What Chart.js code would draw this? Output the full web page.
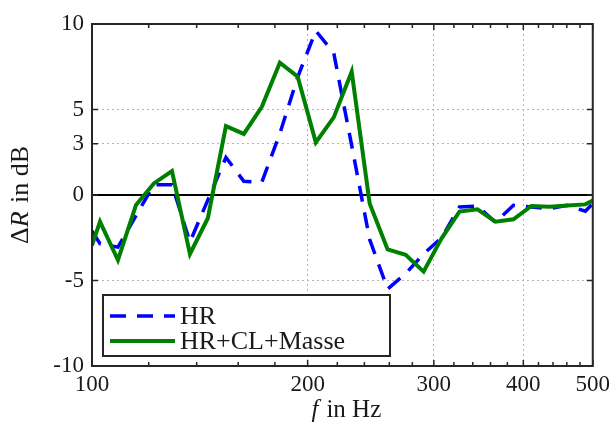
<!DOCTYPE html>
<html lang="de">
<head>
    <meta charset="UTF-8">
    <title>Delta R</title>
    <script src="https://cdn.jsdelivr.net/npm/chart.js"></script>
    <style>
        html, body { margin: 0; padding: 0; background: #fff; }
        #chartContainer { width: 615px; height: 423px; }
    </style>
</head>
<body>
    <div id="chartContainer">
        <canvas id="deltaRChart" width="615" height="423"></canvas>
    </div>
    <script>
        // frequencies in Hz (1/12 octave steps, plus the axis ends)
        const freqs = [100, 102.6, 108.7, 115.2, 122.0, 129.3, 137.0, 145.1, 153.8, 162.9, 172.6,
            182.9, 193.7, 205.3, 217.5, 230.4, 244.1, 258.6, 274.0, 290.3, 307.6,
            325.8, 345.2, 365.7, 387.5, 410.5, 434.9, 460.8, 488.2, 500];

        const hrValues = [-2.1, -2.85, -3.05, -1.2, 0.6, 0.6, -2.75, -0.3, 2.2, 0.8, 0.75,
            3.6, 6.9, 9.6, 8.3, 2.9, -2.6, -5.5, -4.6, -3.45, -2.5,
            -0.7, -0.65, -1.6, -0.6, -0.7, -0.8, -0.6, -0.95, -0.5];

        const hrClMasseValues = [-2.95, -1.56, -3.8, -0.58, 0.68, 1.4, -3.45, -1.36, 4.03, 3.57, 5.16,
            7.74, 6.92, 3.08, 4.54, 7.21, -0.49, -3.18, -3.5, -4.48, -2.53,
            -0.97, -0.84, -1.56, -1.42, -0.64, -0.68, -0.62, -0.55, -0.33];

        const seriesLabels = ['HR', 'HR+CL+Masse'];
        const xTicks = [100, 200, 300, 400, 500];
        const xMinorTicks = [120, 140, 160, 180, 220, 240, 260, 280, 320, 340, 360, 380, 420, 440, 460, 480];
        const yTicks = [-10, -5, 0, 3, 5, 10];

        const serif = '"Liberation Serif", "DejaVu Serif", serif';
        const frameColor = '#262626';
        const textColor = '#1a1a1a';

        const toPoints = vals => vals.map((v, i) => ({ x: freqs[i], y: v }));

        // draw text made of [text, style, gapAfter] parts, centred on cx
        function drawParts(ctx, parts, size, cx, cy) {
            let total = 0;
            parts.forEach(p => {
                ctx.font = p[1] + ' ' + size + 'px ' + serif;
                total += ctx.measureText(p[0]).width + (p[2] || 0);
            });
            let cur = cx - total / 2;
            ctx.textAlign = 'left';
            parts.forEach(p => {
                ctx.font = p[1] + ' ' + size + 'px ' + serif;
                ctx.fillText(p[0], cur, cy);
                cur += ctx.measureText(p[0]).width + (p[2] || 0);
            });
        }

        // zero line, frame with inward ticks, axis titles, legend
        const decorPlugin = {
            id: 'decor',
            beforeDatasetsDraw(chart) {
                const { ctx, chartArea: a, scales: { y } } = chart;
                const y0 = y.getPixelForValue(0);
                ctx.save();
                ctx.strokeStyle = '#000';
                ctx.lineWidth = 2;
                ctx.beginPath();
                ctx.moveTo(a.left, y0);
                ctx.lineTo(a.right, y0);
                ctx.stroke();
                ctx.restore();
            },
            afterDatasetsDraw(chart) {
                const { ctx, chartArea: a, scales: { x, y } } = chart;
                ctx.save();
                ctx.strokeStyle = frameColor;
                ctx.lineWidth = 1.5;
                ctx.beginPath();
                xTicks.forEach(v => {
                    const px = x.getPixelForValue(v);
                    ctx.moveTo(px, a.bottom); ctx.lineTo(px, a.bottom - 6);
                    ctx.moveTo(px, a.top); ctx.lineTo(px, a.top + 6);
                });
                xMinorTicks.forEach(v => {
                    const px = x.getPixelForValue(v);
                    ctx.moveTo(px, a.bottom); ctx.lineTo(px, a.bottom - 4);
                    ctx.moveTo(px, a.top); ctx.lineTo(px, a.top + 4);
                });
                yTicks.forEach(v => {
                    const py = y.getPixelForValue(v);
                    ctx.moveTo(a.left, py); ctx.lineTo(a.left + 6, py);
                    ctx.moveTo(a.right, py); ctx.lineTo(a.right - 6, py);
                });
                ctx.stroke();
                ctx.lineWidth = 2;
                ctx.strokeRect(a.left, a.top, a.right - a.left, a.bottom - a.top);

                // axis titles
                ctx.fillStyle = textColor;
                ctx.textBaseline = 'alphabetic';
                drawParts(ctx, [['f', 'italic', 8], ['in Hz', 'normal']], 25, (a.left + a.right) / 2 + 4, 417);
                ctx.save();
                ctx.translate(28, (a.top + a.bottom) / 2);
                ctx.rotate(-Math.PI / 2);
                drawParts(ctx, [['\u0394', 'normal'], ['R', 'italic', 2], [' in dB', 'normal']], 26, 0, 0);
                ctx.restore();

                // legend
                const box = { left: 103, top: 295, right: 390, bottom: 356 };
                ctx.fillStyle = '#fff';
                ctx.fillRect(box.left, box.top, box.right - box.left, box.bottom - box.top);
                ctx.strokeStyle = frameColor;
                ctx.lineWidth = 2;
                ctx.strokeRect(box.left, box.top, box.right - box.left, box.bottom - box.top);
                const rows = [316, 341];
                chart.data.datasets.forEach((ds, i) => {
                    const ry = rows[i];
                    ctx.strokeStyle = ds.borderColor;
                    ctx.lineWidth = ds.borderWidth;
                    ctx.setLineDash(ds.borderDash || []);
                    ctx.beginPath();
                    ctx.moveTo(110, ry);
                    ctx.lineTo(175, ry);
                    ctx.stroke();
                    ctx.setLineDash([]);
                    ctx.fillStyle = textColor;
                    ctx.font = '26px ' + serif;
                    ctx.textAlign = 'left';
                    ctx.textBaseline = 'alphabetic';
                    ctx.fillText(ds.label, 180, ry + 8);
                });
                ctx.restore();
            }
        };

        const ctx = document.getElementById('deltaRChart').getContext('2d');
        new Chart(ctx, {
            type: 'line',
            data: {
                datasets: [{
                    label: seriesLabels[0],
                    data: toPoints(hrValues),
                    borderColor: '#0000ff',
                    borderWidth: 3.5,
                    borderDash: [16, 11],
                    pointRadius: 0,
                    tension: 0,
                    order: 1
                }, {
                    label: seriesLabels[1],
                    data: toPoints(hrClMasseValues),
                    borderColor: '#008000',
                    borderWidth: 4,
                    pointRadius: 0,
                    tension: 0,
                    order: 0
                }]
            },
            options: {
                responsive: false,
                animation: false,
                events: [],
                layout: { padding: { left: 0, top: 24, right: 20, bottom: 0 } },
                plugins: {
                    legend: { display: false },
                    tooltip: { enabled: false }
                },
                scales: {
                    x: {
                        type: 'logarithmic',
                        min: 100,
                        max: 500,
                        afterBuildTicks: s => { s.ticks = xTicks.map(v => ({ value: v })); },
                        afterFit: s => { s.height = 57; },
                        ticks: {
                            callback: v => String(v),
                            color: textColor,
                            font: { family: serif, size: 23 },
                            padding: 5,
                            maxRotation: 0,
                            autoSkip: false
                        },
                        grid: {
                            drawTicks: false,
                            lineWidth: 1,
                            color: c => (c.tick && [200, 300, 400].includes(c.tick.value)) ? '#b4b4b4' : 'rgba(0,0,0,0)'
                        },
                        border: { display: false, dash: [2, 3] }
                    },
                    y: {
                        type: 'linear',
                        min: -10,
                        max: 10,
                        afterBuildTicks: s => { s.ticks = yTicks.map(v => ({ value: v })); },
                        afterFit: s => { s.width = 92; },
                        ticks: {
                            callback: v => String(v),
                            color: textColor,
                            font: { family: serif, size: 23 },
                            padding: 8,
                            autoSkip: false
                        },
                        grid: {
                            drawTicks: false,
                            lineWidth: 1,
                            color: c => (c.tick && [-5, 3, 5].includes(c.tick.value)) ? '#b4b4b4' : 'rgba(0,0,0,0)'
                        },
                        border: { display: false, dash: [2, 3] }
                    }
                }
            },
            plugins: [decorPlugin]
        });
    </script>
</body>
</html>
